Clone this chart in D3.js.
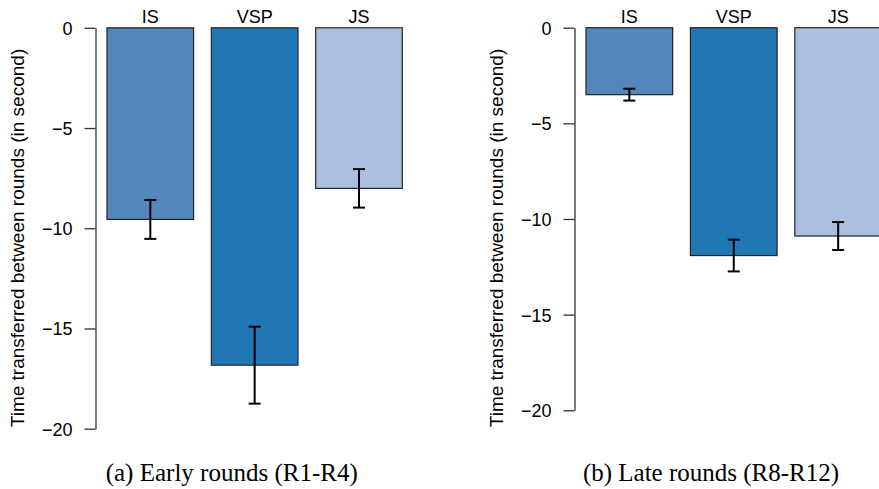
<!DOCTYPE html>
<html lang="en">
<head>
    <meta charset="UTF-8"/>
    <title>Time transferred between rounds</title>
    <script src="https://d3js.org/d3.v7.min.js"></script>
    <style>
        body { margin: 0; background: #fff; }
        text { font-family: "Liberation Sans", Arial, sans-serif; }
        .axis path, .axis line { stroke: #333; stroke-width: 1.3px; }
        .axis text { font-size: 18px; fill: #000; }
        .caption { font-family: "Liberation Serif", "Times New Roman", serif; font-size: 25px; }
    </style>
</head>
<body>
<div id="chart"></div>
<script>
    // data
    const categories = ["IS", "VSP", "JS"];
    const colors = ["#5387bb", "#2077b4", "#abbfe0"];
    const yTicks = [0, -5, -10, -15, -20];

    const earlyMeans = [-9.56, -16.83, -8.01];
    const earlyErr = [0.97, 1.92, 0.96];
    const lateMeans = [-3.5, -11.91, -10.89];
    const lateErr = [0.31, 0.83, 0.73];

    const yTitle = "Time transferred between rounds (in second)";

    const svg = d3.select("#chart")
        .append("svg")
        .attr("width", 879)
        .attr("height", 489);

    // one panel per round group
    const panels = [
        {means: earlyMeans, err: earlyErr, caption: "(a) Early rounds (R1-R4)",
         axisX: 95.5, bars: [107, 402.3], yRange: [428.7, 27.8], titleX: 24, captionX: 231.7},
        {means: lateMeans, err: lateErr, caption: "(b) Late rounds (R8-R12)",
         axisX: 574.5, bars: [586, 881.5], yRange: [410.3, 27.7], titleX: 503, captionX: 711}
    ];

    panels.forEach(function(p) {
        const g = svg.append("g");

        const x = d3.scaleBand()
            .domain(categories)
            .range(p.bars)
            .paddingInner(0.17)
            .paddingOuter(0);

        const y = d3.scaleLinear()
            .domain([-20, 0])
            .range(p.yRange);

        const color = d3.scaleOrdinal().domain(categories).range(colors);

        // Y axis
        g.append("g")
            .attr("class", "axis")
            .attr("transform", "translate(" + p.axisX + ",0)")
            .call(d3.axisLeft(y).tickValues(yTicks).tickSize(11).tickSizeOuter(0).tickPadding(12))
            .call(function(a) { a.selectAll("text").attr("dy", "0.36em"); });

        // bars
        g.selectAll("rect")
            .data(categories)
            .enter()
            .append("rect")
            .attr("x", function(d) { return x(d); })
            .attr("y", y(0))
            .attr("width", x.bandwidth())
            .attr("height", function(d, i) { return y(p.means[i]) - y(0); })
            .attr("fill", function(d) { return color(d); })
            .attr("stroke", "#222")
            .attr("stroke-width", 1.2);

        // error bars
        const eb = g.selectAll(".err")
            .data(categories)
            .enter()
            .append("g")
            .attr("class", "err")
            .attr("stroke", "#000")
            .attr("stroke-width", 2);
        eb.append("line")
            .attr("x1", function(d) { return x(d) + x.bandwidth() / 2; })
            .attr("x2", function(d) { return x(d) + x.bandwidth() / 2; })
            .attr("y1", function(d, i) { return y(p.means[i] + p.err[i]); })
            .attr("y2", function(d, i) { return y(p.means[i] - p.err[i]); });
        [1, -1].forEach(function(s) {
            eb.append("line")
                .attr("x1", function(d) { return x(d) + x.bandwidth() / 2 - 6; })
                .attr("x2", function(d) { return x(d) + x.bandwidth() / 2 + 6; })
                .attr("y1", function(d, i) { return y(p.means[i] + s * p.err[i]); })
                .attr("y2", function(d, i) { return y(p.means[i] + s * p.err[i]); });
        });

        // category names above bars
        g.selectAll(".cat")
            .data(categories)
            .enter()
            .append("text")
            .attr("class", "cat")
            .attr("x", function(d) { return x(d) + x.bandwidth() / 2; })
            .attr("y", 23)
            .attr("text-anchor", "middle")
            .style("font-size", "18px")
            .text(function(d) { return d; });

        // y title
        g.append("text")
            .attr("transform", "translate(" + p.titleX + ",238) rotate(-90)")
            .attr("text-anchor", "middle")
            .style("font-size", "19px")
            .text(yTitle);

        // caption
        g.append("text")
            .attr("class", "caption")
            .attr("x", p.captionX)
            .attr("y", 481)
            .attr("text-anchor", "middle")
            .text(p.caption);
    });
</script>
</body>
</html>
